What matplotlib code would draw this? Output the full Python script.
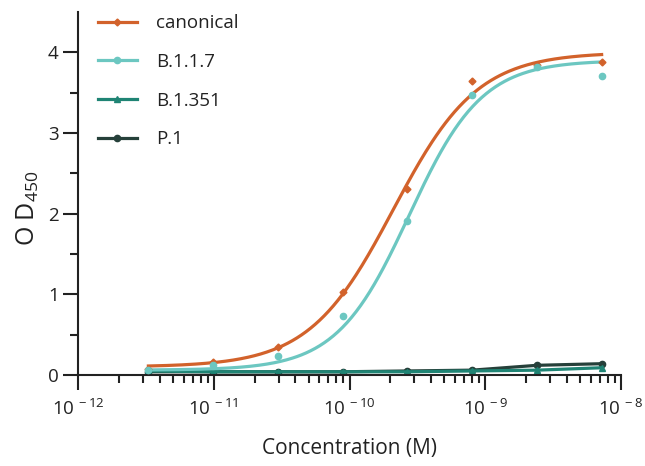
import numpy as np
import matplotlib
matplotlib.use("Agg")
import matplotlib.pyplot as plt
from matplotlib.ticker import FixedLocator, NullFormatter, FuncFormatter

plt.rcParams['font.family'] = ['Open Sans', 'DejaVu Sans']
plt.rcParams['mathtext.fontset'] = 'custom'
plt.rcParams['mathtext.rm'] = 'Open Sans'

# ---- data ----
conc = [3.3e-12, 9.9e-12, 2.96e-11, 8.9e-11, 2.67e-10, 8.0e-10, 2.4e-9, 7.2e-9]
canonical = [0.08, 0.16, 0.35, 1.03, 2.31, 3.65, 3.84, 3.88]
b117 = [0.06, 0.12, 0.23, 0.73, 1.91, 3.47, 3.82, 3.71]
b1351 = [0.05, 0.04, 0.04, 0.04, 0.04, 0.05, 0.06, 0.09]
p1 = [0.04, 0.04, 0.04, 0.04, 0.05, 0.06, 0.12, 0.14]

# 4PL fit parameters (bottom, top, EC50, Hill)
fit_canonical = (0.10, 4.00, 2.1e-10, 1.40)
fit_b117 = (0.06, 3.90, 2.75e-10, 1.62)

series_names = ['canonical', 'B.1.1.7', 'B.1.351', 'P.1']
colors = ['#D2622B', '#6CC7C1', '#1F8474', '#26403A']

x_ticks = [1e-12, 1e-11, 1e-10, 1e-9, 1e-8]
y_ticks = [0, 1, 2, 3, 4]


def four_pl(x, p):
    b, t, ec, h = p
    return b + (t - b) / (1 + (ec / x) ** h)


fig = plt.figure(figsize=(6.45, 4.66), dpi=100)
ax = fig.add_axes([78 / 645, 1 - 375 / 466, (621 - 78) / 645, (375 - 12) / 466])

xs = np.logspace(np.log10(conc[0]), np.log10(conc[-1]), 300)
lw = 2.3
# canonical
ax.plot(xs, four_pl(xs, fit_canonical), color=colors[0], lw=lw, zorder=4)
ax.plot(conc, canonical, linestyle='none', marker='D', ms=3.5, color=colors[0], zorder=5)
# B.1.1.7
ax.plot(xs, four_pl(xs, fit_b117), color=colors[1], lw=lw, zorder=3)
ax.plot(conc, b117, linestyle='none', marker='o', ms=4.5, color=colors[1], zorder=5)
# B.1.351 and P.1
ax.plot(conc, p1, color=colors[3], lw=lw, marker='o', ms=4.5, zorder=2)
ax.plot(conc, b1351, color=colors[2], lw=lw, marker='^', ms=4.5, zorder=2)

# legend handles
handles = [
    plt.Line2D([], [], color=colors[0], lw=lw, marker='D', ms=3.5),
    plt.Line2D([], [], color=colors[1], lw=lw, marker='o', ms=4.5),
    plt.Line2D([], [], color=colors[2], lw=lw, marker='^', ms=4.5),
    plt.Line2D([], [], color=colors[3], lw=lw, marker='o', ms=4.5),
]
leg = ax.legend(handles, series_names, loc='upper left', bbox_to_anchor=(0.005, 1.04),
                frameon=False, fontsize=13.5, handlelength=2.1, handletextpad=1.0,
                labelspacing=1.1)
for t in leg.get_texts():
    t.set_color('#222222')

ax.set_xscale('log')
ax.set_xlim(1e-12, 1e-8)
ax.set_ylim(0, 4.5)

ax.xaxis.set_major_locator(FixedLocator(x_ticks))
minors = [m * 10.0 ** e for e in range(-12, -8) for m in range(2, 10)]
ax.xaxis.set_minor_locator(FixedLocator(minors))
ax.xaxis.set_minor_formatter(NullFormatter())
ax.xaxis.set_major_formatter(FuncFormatter(
    lambda v, p: r'$\mathregular{10^{\,%d}}$' % int(round(np.log10(v)))))

ax.yaxis.set_major_locator(FixedLocator(y_ticks))
ax.yaxis.set_minor_locator(FixedLocator([0.5, 1.5, 2.5, 3.5]))

for s in ['top', 'right']:
    ax.spines[s].set_visible(False)
for s in ['left', 'bottom']:
    ax.spines[s].set_linewidth(1.5)
    ax.spines[s].set_color('#222222')

ax.tick_params(axis='both', which='major', length=11, width=1.5, color='#222222',
               labelsize=13.5, labelcolor='#222222')
ax.tick_params(axis='both', which='minor', length=6, width=1.5, color='#222222')
ax.tick_params(axis='x', which='major', pad=6)
ax.tick_params(axis='y', which='major', pad=3)

ax.set_xlabel('Concentration (M)', fontsize=15, color='#222222', labelpad=14)
ax.set_ylabel(r'O D$_{450}$', fontsize=18, color='#222222')
ax.yaxis.set_label_coords(-0.068, 0.46)

fig.savefig('out.png', dpi=100, facecolor='white')
